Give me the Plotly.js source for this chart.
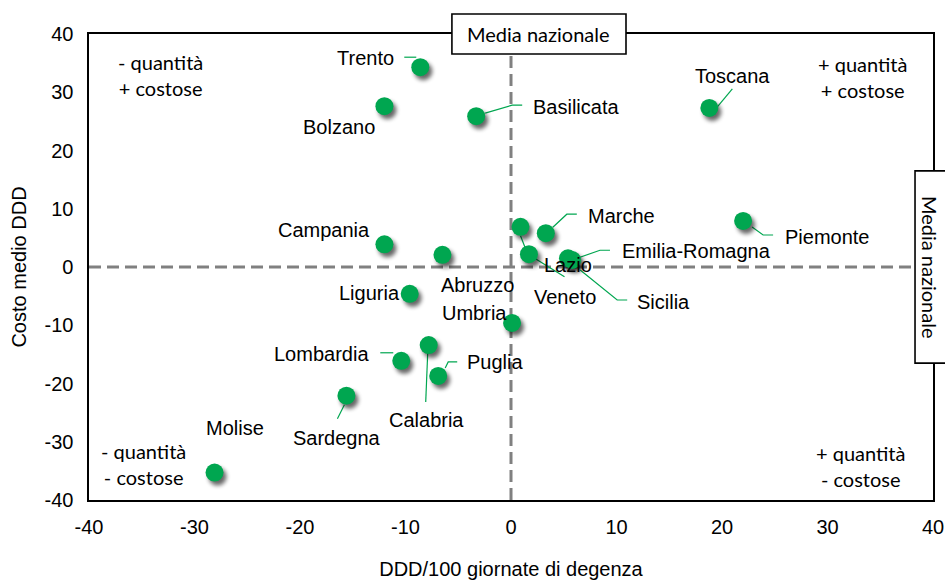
<!DOCTYPE html>
<html><head><meta charset="utf-8">
<script src="https://cdn.plot.ly/plotly-3.0.1.min.js"></script>
<style>
html,body{margin:0;padding:0;background:#fff;}
#chart{width:945px;height:580px;}
.scatterlayer .points path{filter:url(#mkshadow);}
</style>
</head><body>
<svg width="0" height="0" style="position:absolute">
  <defs>
    <filter id="mkshadow" x="-60%" y="-60%" width="220%" height="220%" color-interpolation-filters="sRGB">
      <feGaussianBlur in="SourceAlpha" stdDeviation="2.2" result="blur"/>
      <feOffset in="blur" dx="2.5" dy="3.5" result="off"/>
      <feComponentTransfer in="off" result="shadow"><feFuncA type="linear" slope="0.6"/></feComponentTransfer>
      <feMerge><feMergeNode in="shadow"/><feMergeNode in="SourceGraphic"/></feMerge>
    </filter>
  </defs>
</svg>
<div id="chart"></div>
<script>
// Data
const regions = ["Trento","Bolzano","Basilicata","Toscana","Campania","Abruzzo","Veneto","Marche","Lazio","Emilia-Romagna","Sicilia","Piemonte","Liguria","Umbria","Lombardia","Calabria","Puglia","Sardegna","Molise"];
const dddX = [-8.6,-12.0,-3.3,18.8,-12.0,-6.5,0.9,3.3,1.7,5.4,5.8,22.0,-9.6,0.1,-10.4,-7.8,-6.9,-15.6,-28.1];
const costY = [34.3,27.6,25.9,27.3,3.9,2.1,6.9,5.8,2.2,1.5,1.2,7.9,-4.6,-9.6,-16.1,-13.4,-18.7,-22.1,-35.3];
const xTicks = [-40,-30,-20,-10,0,10,20,30,40];
const yTicks = [-40,-30,-20,-10,0,10,20,30,40];

// Label placement: pixel offsets from point to label centre (screen, y down)
const labelOffset = {
  "Trento":[-55,-9], "Bolzano":[-45,21], "Basilicata":[100,-9],
  "Toscana":[23,-32], "Campania":[-60,-14], "Abruzzo":[35,30],
  "Veneto":[44,70], "Marche":[76,-17], "Lazio":[39,11],
  "Emilia-Romagna":[129,-7], "Sicilia":[91,42], "Piemonte":[84,16],
  "Liguria":[-40,-1], "Umbria":[-38,-10], "Lombardia":[-80,-7],
  "Calabria":[-2,75], "Puglia":[57,-14], "Sardegna":[-9,42],
  "Molise":[20,-45]
};
// Leader line polylines: pixel offsets from the point (screen, y down)
const leaderPath = {
  "Trento":[[-16,-10],[-4,-10]],
  "Basilicata":[[9,-3],[36,-11],[46,-11]],
  "Toscana":[[8,-1],[23,-19]],
  "Marche":[[7,-6],[21,-19],[31,-19]],
  "Emilia-Romagna":[[12,-1],[32,-8],[42,-8]],
  "Sicilia":[[8,10],[45,40],[55,40]],
  "Veneto":[[0,9],[7,27],[44,50]],
  "Piemonte":[[9,6],[20,14],[30,14]],
  "Lombardia":[[-21,-8],[-8,-8]],
  "Calabria":[[-1,8],[-3,57]],
  "Puglia":[[7,-8],[10,-14],[19,-14]],
  "Sardegna":[[-2,9],[-9,23]]
};

const green = "#00a650";
const arial = "Arial";
const labelFont = {family:arial, size:20, color:"#000"};
const noteFont = {family:"Lato", size:20, color:"#000"};

const annotations = regions.map((r,i)=>{
  const s = labelOffset[r];
  return {
    x: dddX[i], y: costY[i], xref:"x", yref:"y",
    text: r, font: labelFont, showarrow: true,
    ax: s[0], ay: s[1], arrowhead: 0, arrowwidth: 1,
    arrowcolor: "rgba(0,0,0,0)"
  };
});

annotations.push(
  {xref:"paper", yref:"paper", x:0.085, y:0.912, text:"- quantità<br>+ costose", showarrow:false, font:noteFont, align:"center", xanchor:"center", yanchor:"middle"},
  {xref:"paper", yref:"paper", x:0.917, y:0.908, text:"+ quantità<br>+ costose", showarrow:false, font:noteFont, align:"center", xanchor:"center", yanchor:"middle"},
  {xref:"paper", yref:"paper", x:0.064, y:0.077, text:"- quantità<br>- costose", showarrow:false, font:noteFont, align:"center", xanchor:"center", yanchor:"middle"},
  {xref:"paper", yref:"paper", x:0.914, y:0.072, text:"+ quantità<br>- costose", showarrow:false, font:noteFont, align:"center", xanchor:"center", yanchor:"middle"},
  {xref:"x", yref:"paper", x:2.65, y:1.0, text:"Media nazionale", showarrow:false,
   font:{family:"Lato", size:20, color:"#000"}, xanchor:"center", yanchor:"middle"},
  {xref:"paper", yref:"y", x:0.9965, y:0, text:"Media nazionale", showarrow:false, textangle:90,
   font:{family:"Lato", size:20, color:"#000"}, xanchor:"center", yanchor:"middle"}
);

const trace = {
  x: dddX, y: costY, text: regions, type:"scatter", mode:"markers",
  marker:{color:green, size:18, line:{width:0}},
  hoverinfo:"text", cliponaxis:false
};

const dashLine = {color:"#808080", width:3, dash:"12px,6px"};
const axFont = {family:arial, size:20, color:"#000"};

const shapes = [
  {type:"line", xref:"x", yref:"y", x0:0, x1:0, y0:-40, y1:40, line:dashLine, layer:"below"},
  {type:"line", xref:"x", yref:"y", x0:-40, x1:40, y0:0, y1:0, line:dashLine, layer:"below"}
];
regions.forEach((r,i)=>{
  const p = leaderPath[r];
  if(!p) return;
  const d = p.map((pt,k)=>(k?"L":"M")+pt[0]+","+(-pt[1])).join(" ");
  shapes.push({type:"path", xref:"x", yref:"y", xsizemode:"pixel", ysizemode:"pixel",
    xanchor:dddX[i], yanchor:costY[i], path:d, line:{color:green, width:1.2}, layer:"below"});
});
shapes.push(
  {type:"rect", xref:"x", yref:"paper", x0:-5.6, x1:10.9, y0:0.957, y1:1.043, fillcolor:"#fff", line:{color:"#000", width:1.6}, layer:"above"},
  {type:"rect", xref:"paper", yref:"y", x0:0.9787, x1:1.05, y0:-16.5, y1:16.5, fillcolor:"#fff", line:{color:"#000", width:1.6}, layer:"above"}
);

const layout = {
  width:945, height:580,
  margin:{l:89, r:12, t:34, b:80},
  paper_bgcolor:"#fff", plot_bgcolor:"#fff",
  showlegend:false,
  xaxis:{range:[-40,40], tickvals:xTicks, ticktext:xTicks.map(String), showgrid:false, zeroline:false,
    showline:true, mirror:true, linecolor:"#000", linewidth:1.6, ticks:"", ticklen:0,
    tickfont:axFont, ticklabelstandoff:8,
    title:{text:"DDD/100 giornate di degenza", standoff:28, font:axFont}},
  yaxis:{range:[-40,40], tickvals:yTicks, ticktext:yTicks.map(String), showgrid:false, zeroline:false,
    showline:true, mirror:true, linecolor:"#000", linewidth:1.6, ticks:"", ticklen:0,
    tickfont:axFont, ticklabelstandoff:10,
    title:{text:"Costo medio DDD", standoff:12, font:axFont}},
  shapes: shapes,
  annotations: annotations
};

Plotly.newPlot("chart", [trace], layout, {displayModeBar:false, staticPlot:true});
</script>
</body></html>
